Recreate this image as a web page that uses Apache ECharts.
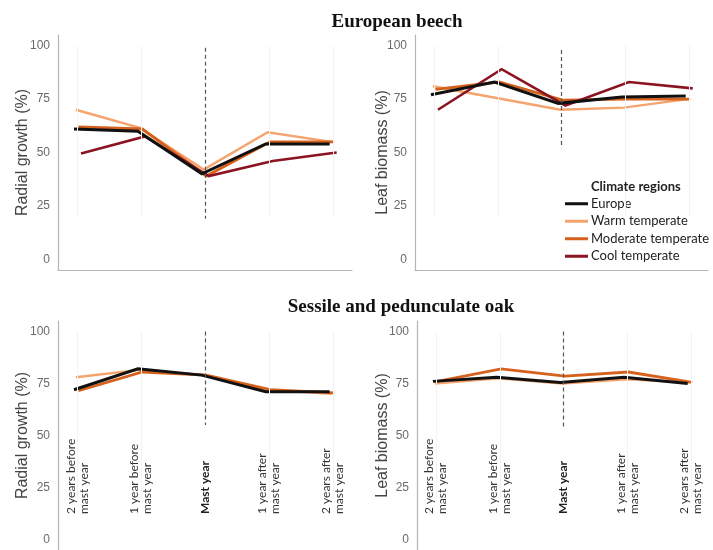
<!DOCTYPE html>
<html>
<head>
<meta charset="utf-8">
<script src="https://cdn.jsdelivr.net/npm/echarts@6/dist/echarts.min.js"></script>
<style>
  html, body { margin: 0; padding: 0; background: #fff; }
  #chart { width: 713px; height: 550px; }
</style>
</head>
<body>
<div id="chart"></div>
<script>
// Years relative to a mast (heavy seed) year
const categories = ['2 years before\nmast year', '1 year before\nmast year', 'Mast year', '1 year after\nmast year', '2 years after\nmast year'];
const regionNames = ['Europe', 'Warm temperate', 'Moderate temperate', 'Cool temperate'];
const yTicks = [0, 25, 50, 75, 100];

// European beech – radial growth (%)
const beechRadialEurope   = [61, 60, 40, 54, 54];
const beechRadialWarm     = [70, 61.5, 42, 59.5, 55];
const beechRadialModerate = [62, 61, 39, 55, 55];
const beechRadialCool     = [49.5, 57.5, 39, 46, 50];

// European beech – leaf biomass (%)
const beechLeafEurope   = [77, 83, 73, 76, 76.5];
const beechLeafWarm     = [81, 75.5, 70, 71, 75];
const beechLeafModerate = [79.5, 83, 74.5, 75, 75];
const beechLeafCool     = [70, 89, 72, 83, 80];

// Sessile and pedunculate oak – radial growth (%)
const oakRadialEurope   = [72, 82, 79, 71, 71];
const oakRadialWarm     = [78, 81.5, 79, 72, 70];
const oakRadialModerate = [71.5, 80.5, 79, 72, 70.5];

// Sessile and pedunculate oak – leaf biomass (%)
const oakLeafEurope   = [76, 78, 75.5, 78, 75];
const oakLeafWarm     = [75, 77.5, 75, 77, 75.5];
const oakLeafModerate = [76, 82, 78.5, 80.5, 75.5];

// vertical extent of the mast-year marker per panel
const mastMarkerRadialBeech = [99, 19];
const mastMarkerLeafBeech   = [98, 52];
const mastMarkerRadialOak   = [100, 55];
const mastMarkerLeafOak     = [100, 54];

const colors = {
  'Europe': '#111111',
  'Warm temperate': '#F5A46E',
  'Moderate temperate': '#D6611C',
  'Cool temperate': '#8C1321'
};
const widths = {
  'Europe': 3,
  'Warm temperate': 2.4,
  'Moderate temperate': 2.8,
  'Cool temperate': 2.6
};
// small horizontal dodge so overlapping lines stay visible
const dodge = {
  'Europe': -0.05,
  'Warm temperate': -0.02,
  'Moderate temperate': 0.02,
  'Cool temperate': 0.06
};

const panels = [
  { grid: { left: 58, top: 35, width: 294, height: 235 }, yName: 'Radial growth (%)', nameGap: 27, labels: false,
    marker: mastMarkerRadialBeech,
    series: [['Europe', beechRadialEurope], ['Warm temperate', beechRadialWarm], ['Moderate temperate', beechRadialModerate], ['Cool temperate', beechRadialCool]] },
  { grid: { left: 415, top: 35, width: 293, height: 235 }, yName: 'Leaf biomass (%)', nameGap: 24, labels: false,
    marker: mastMarkerLeafBeech,
    series: [['Europe', beechLeafEurope], ['Warm temperate', beechLeafWarm], ['Moderate temperate', beechLeafModerate], ['Cool temperate', beechLeafCool]] },
  { grid: { left: 58, top: 321, width: 294, height: 236 }, yName: 'Radial growth (%)', nameGap: 27, labels: true,
    marker: mastMarkerRadialOak,
    series: [['Warm temperate', oakRadialWarm], ['Moderate temperate', oakRadialModerate], ['Europe', oakRadialEurope]] },
  { grid: { left: 417, top: 321, width: 293, height: 236 }, yName: 'Leaf biomass (%)', nameGap: 26, labels: true,
    marker: mastMarkerLeafOak,
    series: [['Warm temperate', oakLeafWarm], ['Moderate temperate', oakLeafModerate], ['Europe', oakLeafEurope]] }
];

const grids = [], xAxes = [], yAxes = [], series = [];
const axisColor = '#b5b5b5';

panels.forEach((p, i) => {
  grids.push(Object.assign({ containLabel: false }, p.grid));
  xAxes.push({
    type: 'value', gridIndex: i, min: -0.3, max: 4.3,
    axisLine: { show: true, onZero: false, lineStyle: { color: axisColor, width: 1.2 } },
    axisTick: { show: false },
    splitLine: { show: false },
    axisLabel: {
      show: p.labels,
      customValues: [0, 1, 2, 3, 4],
      inside: true,
      rotate: 90,
      align: 'left',
      verticalAlign: 'middle',
      margin: 36,
      fontFamily: 'Lato',
      fontSize: 12,
      lineHeight: 13,
      color: '#333',
      formatter: v => (v === 2 ? '{b|' + categories[v] + '}' : categories[v]),
      rich: { b: { fontWeight: 'bold', fontFamily: 'Lato', fontSize: 12, color: '#222' } }
    }
  });
  yAxes.push({
    type: 'value', gridIndex: i, min: -5, max: 105,
    name: p.yName, nameLocation: 'middle', nameGap: p.nameGap, nameMoveOverlap: false,
    nameTextStyle: { fontFamily: 'Liberation Sans', fontSize: 16, color: '#444' },
    axisLine: { show: true, onZero: false, lineStyle: { color: axisColor, width: 1.2 } },
    axisTick: { show: false },
    splitLine: { show: false },
    axisLabel: {
      customValues: yTicks, margin: 8,
      fontFamily: 'Liberation Sans', fontSize: 12, color: '#6a6a6a'
    }
  });

  // faint category guides and dashed mast-year marker
  series.push({
    type: 'line', xAxisIndex: i, yAxisIndex: i, data: [], silent: true,
    markLine: {
      silent: true, symbol: 'none', animation: false, label: { show: false },
      data: [0, 1, 3, 4].map(c => [
        { coord: [c, 100], lineStyle: { color: '#f3f3f3', width: 1, type: 'solid' } },
        { coord: [c, 20] }
      ]).concat([[
        { coord: [2, p.marker[0]], lineStyle: { color: '#555', width: 1.2, type: [4, 3] } },
        { coord: [2, p.marker[1]] }
      ]])
    }
  });

  p.series.forEach(([name, values]) => {
    series.push({
      name: name, type: 'line', xAxisIndex: i, yAxisIndex: i,
      symbol: 'none', animation: false,
      data: values.map((v, k) => [k + dodge[name], v]),
      lineStyle: { color: colors[name], width: widths[name], join: 'miter' },
      itemStyle: { color: colors[name] },
      z: name === 'Europe' ? 4 : 3
    });
  });
});

const chart = echarts.init(document.getElementById('chart'), null, { renderer: 'canvas' });
chart.setOption({
  backgroundColor: '#ffffff',
  animation: false,
  title: [
    { text: 'European beech', left: 397, top: 13, textAlign: 'center', padding: 0,
      textStyle: { fontFamily: 'Liberation Serif', fontWeight: 'bold', fontSize: 19, color: '#111' } },
    { text: 'Sessile and pedunculate oak', left: 401, top: 298, textAlign: 'center', padding: 0,
      textStyle: { fontFamily: 'Liberation Serif', fontWeight: 'bold', fontSize: 19, color: '#111' } },
    { text: 'Climate regions', left: 591, top: 180, padding: 0,
      textStyle: { fontFamily: 'Lato', fontWeight: 'bold', fontSize: 13, color: '#222' } }
  ],
  legend: {
    data: regionNames,
    orient: 'vertical', left: 565, top: 195, padding: 0,
    icon: 'rect', itemWidth: 23, itemHeight: 3, itemGap: 0,
    selectedMode: false,
    textStyle: { fontFamily: 'Lato', fontSize: 13, color: '#222', lineHeight: 17.5, padding: [0, 0, 0, -2] }
  },
  grid: grids,
  xAxis: xAxes,
  yAxis: yAxes,
  series: series
});
</script>
</body>
</html>
